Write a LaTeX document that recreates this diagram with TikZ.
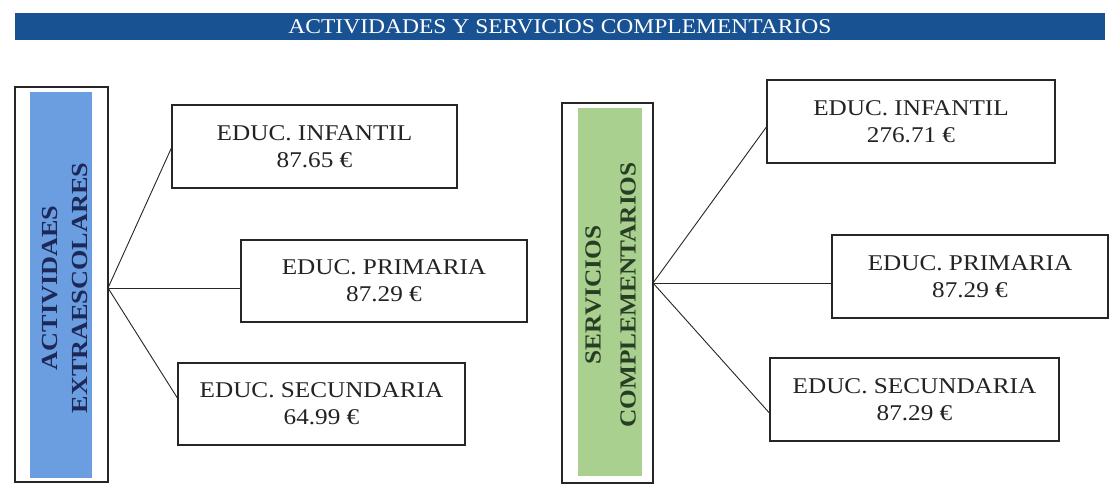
\documentclass[tikz,border=0pt]{standalone}
\usepackage{fontspec}
\setmainfont{Liberation Serif}
\definecolor{hdrblue}{RGB}{24,82,146}
\definecolor{barblue}{RGB}{106,158,224}
\definecolor{bargreen}{RGB}{170,208,144}
\definecolor{navytxt}{RGB}{28,40,88}
\definecolor{greentxt}{RGB}{40,62,36}
\definecolor{inktxt}{RGB}{35,35,35}
\newcommand\sxa[1]{\scalebox{1.12}[1]{#1}}
\newcommand\sxb[1]{\scalebox{1.14}[1]{#1}}
\newcommand\sxc[1]{\scalebox{1.10}[1]{#1}}
\newcommand\sxh[1]{\scalebox{1.12}[1]{#1}}
\begin{document}
\begin{tikzpicture}[x=1pt,y=-1pt,
  edubox/.style={draw=black!85, line width=1.2pt, fill=white, align=center, inner sep=0pt,
    text=inktxt, font=\fontsize{22.5}{27}\selectfont},
  outerbox/.style={draw=black!85, line width=1.2pt, fill=white, inner sep=0pt},
  innerbar/.style={draw=none, inner sep=0pt},
  sidetext/.style={rotate=90, align=center, font=\bfseries\fontsize{23}{30}\selectfont, inner sep=0pt},
  link/.style={draw=black!85, line width=0.9pt}]
\useasboundingbox (0,0) rectangle (1110,486);
\fill[white] (0,0) rectangle (1110,486);
% header
\node[fill=hdrblue, minimum width=1090pt, minimum height=27pt, inner sep=0pt,
  text=white, font=\fontsize{21}{24}\selectfont] (header) at (560,26.5)
  {\sxh{ACTIVIDADES Y SERVICIOS COMPLEMENTARIOS}};
% left column
\node[outerbox, minimum width=93pt, minimum height=395pt] (lout) at (61.5,284.5) {};
\node[innerbar, fill=barblue, minimum width=62pt, minimum height=386pt] (lbar) at (61,285) {};
\node[sidetext, text=navytxt] (ltxt) at (65,288) {\sxb{ACTIVIDAES}\\\sxb{EXTRAESCOLARES}};
\coordinate (lhub) at (108,288);
\node[edubox, minimum width=285pt, minimum height=83pt] (li) at (314.5,146.5)
  {\sxa{EDUC. INFANTIL}\\\sxa{87.65 €}};
\node[edubox, minimum width=286pt, minimum height=82pt] (lp) at (384,281)
  {\sxa{EDUC. PRIMARIA}\\\sxa{87.29 €}};
\node[edubox, minimum width=287pt, minimum height=82pt] (ls) at (321.5,404)
  {\sxa{EDUC. SECUNDARIA}\\\sxa{64.99 €}};
\draw[link] (lhub) -- ([yshift=-1.5pt]li.west);
\draw[link] (lhub) -- (lhub -| lp.west);
\draw[link] (lhub) -- ([yshift=6pt]ls.west);
% right column
\node[outerbox, minimum width=91pt, minimum height=380pt] (rout) at (607.5,293) {};
\node[innerbar, fill=bargreen, minimum width=64pt, minimum height=368pt] (rbar) at (610,292) {};
\node[sidetext, text=greentxt, font=\bfseries\fontsize{23}{35}\selectfont] (rtxt) at (610.5,295)
  {\sxc{SERVICIOS}\\\sxc{COMPLEMENTARIOS}};
\coordinate (rhub) at (653,283);
\node[edubox, minimum width=288pt, minimum height=83pt] (ri) at (911,121.5)
  {\sxa{EDUC. INFANTIL}\\\sxa{276.71 €}};
\node[edubox, minimum width=276pt, minimum height=83pt] (rp) at (970,276.5)
  {\sxa{EDUC. PRIMARIA}\\\sxa{87.29 €}};
\node[edubox, minimum width=289pt, minimum height=83pt] (rs) at (914.5,399.5)
  {\sxa{EDUC. SECUNDARIA}\\\sxa{87.29 €}};
\draw[link] (rhub) -- ([yshift=-5.5pt]ri.west);
\draw[link] (rhub) -- (rhub -| rp.west);
\draw[link] (rhub) -- ([yshift=-13.5pt]rs.west);
\end{tikzpicture}
\end{document}
